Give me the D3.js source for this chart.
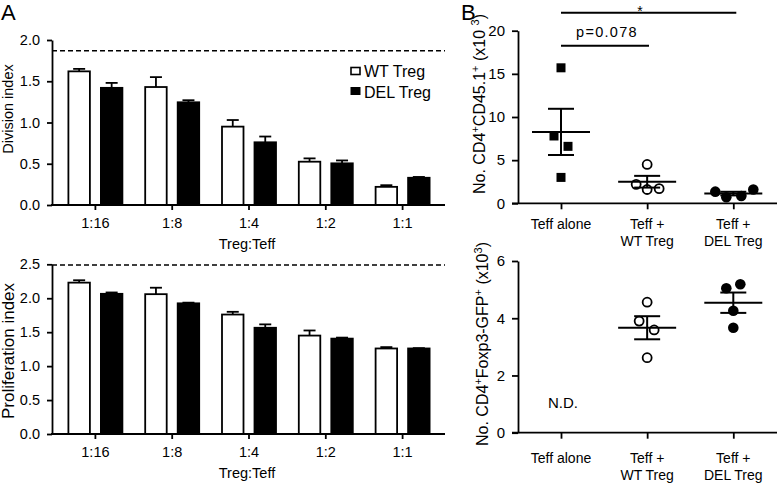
<!DOCTYPE html>
<html><head><meta charset="utf-8">
<script src="https://cdn.jsdelivr.net/npm/d3@7"></script>
<style>
body{margin:0;background:#fff;}
svg{display:block;font-family:"Liberation Sans",Arial,sans-serif;}
</style></head>
<body><svg id="c" width="777" height="483"></svg>
<script>
// ---------- DATA ----------
const ratios = ["1:16","1:8","1:4","1:2","1:1"];
const divWT = [1.62,1.43,0.95,0.525,0.22];
const divWTerr = [0.03,0.12,0.08,0.04,0.02];
const divDEL = [1.42,1.245,0.76,0.505,0.33];
const divDELerr = [0.06,0.025,0.07,0.035,0.01];
const divReference = 1.87;
const divTicks = [0,0.5,1.0,1.5,2.0];

const proWT = [2.23,2.06,1.76,1.45,1.26];
const proWTerr = [0.035,0.095,0.04,0.075,0.02];
const proDEL = [2.065,1.925,1.565,1.405,1.26];
const proDELerr = [0.02,0.01,0.05,0.015,0.005];
const proReference = 2.49;
const proTicks = [0,0.5,1.0,1.5,2.0,2.5];

const groups = ["Teff alone","Teff + WT Treg","Teff + DEL Treg"];
const cd45Alone = [15.7,7.8,6.6,3.0];
const cd45WT = [4.5,2.2,1.6,1.7];
const cd45DEL = [1.35,0.7,0.85,1.6];
const cd45Ticks = [0,5,10,15,20];

const foxWT = [4.56,3.9,3.59,2.62];
const foxDEL = [5.05,5.19,4.26,3.67];
const foxTicks = [0,2,4,6];

// ---------- LAYOUT CONSTANTS ----------
const jitAlone = [0,-7,7,0], jitWT = [0,-11,0,12], jitDEL = [-18,-7,8,20];
const jitFoxWT = [0,-8,7,0], jitFoxDEL = [-7,7,0,0];
const FONT = 14.5;

const svg = d3.select("#c");

function mean(a){return d3.mean(a);}
function sem(a){return d3.deviation(a)/Math.sqrt(a.length);}

// ---------- PANEL A ----------
function barPanel(opt){
  const g = svg.append("g");
  const x = d3.scaleBand().domain(ratios).range([57,441]);
  const y = d3.scaleLinear().domain([0,opt.max]).range([opt.base,opt.top]);
  const bw = 21.5;
  const offW = -27, offD = 5.5;
  g.append("line").attr("x1",52).attr("x2",445)
    .attr("y1",y(opt.ref)).attr("y2",y(opt.ref))
    .attr("stroke","#000").attr("stroke-width",1.6).attr("stroke-dasharray","5,3");
  const series = [
    {vals:opt.wt, err:opt.wtErr, off:offW, fill:"#fff"},
    {vals:opt.del, err:opt.delErr, off:offD, fill:"#000"}
  ];
  series.forEach(s=>{
    ratios.forEach((r,i)=>{
      const cx = x(r)+x.bandwidth()/2;
      const x0 = cx+s.off;
      g.append("line").attr("x1",x0+bw/2).attr("x2",x0+bw/2)
        .attr("y1",y(s.vals[i])).attr("y2",y(s.vals[i]+s.err[i]))
        .attr("stroke","#000").attr("stroke-width",1.8);
      g.append("line").attr("x1",x0+bw/2-6).attr("x2",x0+bw/2+6)
        .attr("y1",y(s.vals[i]+s.err[i])).attr("y2",y(s.vals[i]+s.err[i]))
        .attr("stroke","#000").attr("stroke-width",1.8);
      g.append("rect").attr("x",x0).attr("width",bw)
        .attr("y",y(s.vals[i])).attr("height",y(0)-y(s.vals[i]))
        .attr("fill",s.fill).attr("stroke","#000").attr("stroke-width",1.8);
    });
  });
  const ya = g.append("g").attr("transform","translate(52,0)")
    .call(d3.axisLeft(y).tickValues(opt.ticks).tickFormat(d3.format(".1f")).tickSize(5).tickSizeOuter(0).tickPadding(7));
  ya.selectAll("path,line").attr("stroke-width",1.8);
  ya.selectAll("text").attr("font-size",FONT).attr("font-family","Liberation Sans, Arial");
  g.append("line").attr("x1",51).attr("x2",445).attr("y1",y(0)).attr("y2",y(0))
    .attr("stroke","#000").attr("stroke-width",1.8);
  const xa = g.append("g").attr("transform",`translate(0,${y(0)})`)
    .call(d3.axisBottom(x).tickSize(5).tickPadding(8));
  xa.select(".domain").remove();
  xa.selectAll("line").attr("stroke-width",1.8);
  xa.selectAll("text").attr("font-size",FONT).attr("font-family","Liberation Sans, Arial");
  g.append("text").attr("x",247).attr("y",opt.xlabY).attr("text-anchor","middle")
    .attr("font-size",FONT).text("Treg:Teff");
  g.append("text").attr("transform",`translate(${opt.ylabX},${opt.ylabY}) rotate(-90)`)
    .attr("text-anchor","middle").attr("font-size",opt.ylabSize).text(opt.ylab);
}

barPanel({max:2.0, base:205, top:40, ref:divReference, wt:divWT, wtErr:divWTerr,
  del:divDEL, delErr:divDELerr, ticks:divTicks, xlabY:249, ylab:"Division index",
  ylabX:13, ylabY:109, ylabSize:14.5});
barPanel({max:2.5, base:434, top:264.3, ref:proReference, wt:proWT, wtErr:proWTerr,
  del:proDEL, delErr:proDELerr, ticks:proTicks, xlabY:478, ylab:"Proliferation index",
  ylabX:14, ylabY:351, ylabSize:17});

const leg = svg.append("g");
leg.append("rect").attr("x",351).attr("y",67.5).attr("width",9).attr("height",7)
  .attr("fill","#fff").attr("stroke","#000").attr("stroke-width",1.6);
leg.append("rect").attr("x",350.5).attr("y",87).attr("width",10).attr("height",8).attr("fill","#000");
leg.append("text").attr("x",364).attr("y",77).attr("font-size",16).text("WT Treg");
leg.append("text").attr("x",364).attr("y",97.5).attr("font-size",16).text("DEL Treg");

svg.append("text").attr("x",1).attr("y",20).attr("font-size",22).text("A");
svg.append("text").attr("x",461).attr("y",20).attr("font-size",22).text("B");

// ---------- PANEL B ----------
function dotPanel(opt){
  const g = svg.append("g");
  const x = d3.scalePoint().domain(groups).range([561,733.3]);
  const y = d3.scaleLinear().domain([0,opt.max]).range([opt.base,opt.top]);
  opt.sets.forEach(s=>{
    const cx = x(s.group);
    const m = mean(s.vals), e = sem(s.vals);
    s.vals.forEach((v,i)=>{
      const px = cx + s.jit[i], py = y(v);
      if(s.shape==="square"){
        g.append("rect").attr("x",px-4.5).attr("y",py-4.5).attr("width",9).attr("height",9).attr("fill","#000");
      } else if(s.shape==="open"){
        g.append("circle").attr("cx",px).attr("cy",py).attr("r",4.5)
          .attr("fill","#fff").attr("stroke","#000").attr("stroke-width",1.8);
      } else {
        g.append("circle").attr("cx",px).attr("cy",py).attr("r",5.3).attr("fill","#000");
      }
    });
    g.append("line").attr("x1",cx-29).attr("x2",cx+29).attr("y1",y(m)).attr("y2",y(m))
      .attr("stroke","#000").attr("stroke-width",2);
    g.append("line").attr("x1",cx).attr("x2",cx).attr("y1",y(m-e)).attr("y2",y(m+e))
      .attr("stroke","#000").attr("stroke-width",2);
    [m-e,m+e].forEach(v=>g.append("line").attr("x1",cx-13).attr("x2",cx+13)
      .attr("y1",y(v)).attr("y2",y(v)).attr("stroke","#000").attr("stroke-width",2));
  });
  const ya = g.append("g").attr("transform","translate(518,0)")
    .call(d3.axisLeft(y).tickValues(opt.ticks).tickFormat(d3.format("d")).tickSize(6).tickSizeOuter(0).tickPadding(7));
  ya.selectAll("path,line").attr("stroke-width",1.8);
  ya.selectAll("text").attr("font-size",15).attr("font-family","Liberation Sans, Arial");
  g.append("line").attr("x1",512).attr("x2",777).attr("y1",y(0)).attr("y2",y(0))
    .attr("stroke","#000").attr("stroke-width",1.8);
  const xa = g.append("g").attr("transform",`translate(0,${y(0)})`)
    .call(d3.axisBottom(x).tickSize(6).tickFormat(""));
  xa.select(".domain").remove();
  xa.selectAll("line").attr("stroke-width",1.8);
  groups.forEach(gr=>{
    const parts = gr==="Teff alone" ? [gr] : ["Teff +", gr.replace("Teff + ","")];
    parts.forEach((p,j)=>{
      g.append("text").attr("x",x(gr)).attr("y",y(0)+opt.labDy+j*17)
        .attr("text-anchor","middle").attr("font-size",14).text(p);
    });
  });
  const t = g.append("text").attr("transform",`translate(${opt.ylabX},${opt.ylabY}) rotate(-90)`)
    .attr("text-anchor","middle").attr("font-size",16);
  opt.ylab.forEach(p=>{
    const ts = t.append("tspan").text(p.t);
    if(p.sup){ ts.attr("baseline-shift","super").attr("font-size",11); }
  });
  return {x,y,g};
}

const topPanel = dotPanel({max:20, base:203.3, top:30.7, ticks:cd45Ticks, labDy:26, ylabX:485, ylabY:104,
  sets:[{group:groups[0], vals:cd45Alone, jit:jitAlone, shape:"square"},
        {group:groups[1], vals:cd45WT, jit:jitWT, shape:"open"},
        {group:groups[2], vals:cd45DEL, jit:jitDEL, shape:"filled"}],
  ylab:[{t:"No. CD4"},{t:"+",sup:1},{t:"CD45.1"},{t:"+",sup:1},{t:" (x10 "},{t:"3",sup:1},{t:")"}]});

topPanel.g.append("line").attr("x1",topPanel.x(groups[0])).attr("x2",topPanel.x(groups[2])+3)
  .attr("y1",12.7).attr("y2",12.7).attr("stroke","#000").attr("stroke-width",2);
topPanel.g.append("text").attr("x",640).attr("y",16).attr("text-anchor","middle").attr("font-size",14).text("*");
topPanel.g.append("line").attr("x1",topPanel.x(groups[0])).attr("x2",649)
  .attr("y1",45.7).attr("y2",45.7).attr("stroke","#000").attr("stroke-width",2);
topPanel.g.append("text").attr("x",607).attr("y",37).attr("text-anchor","middle")
  .attr("font-size",14.5).attr("letter-spacing",1.3).text("p=0.078");

const botPanel = dotPanel({max:6, base:432.7, top:261, ticks:foxTicks, labDy:30, ylabX:488, ylabY:344,
  sets:[{group:groups[1], vals:foxWT, jit:jitFoxWT, shape:"open"},
        {group:groups[2], vals:foxDEL, jit:jitFoxDEL, shape:"filled"}],
  ylab:[{t:"No. CD4"},{t:"+",sup:1},{t:"Foxp3-GFP"},{t:"+",sup:1},{t:" (x10"},{t:"3",sup:1},{t:")"}]});
botPanel.g.append("text").attr("x",563).attr("y",408).attr("text-anchor","middle").attr("font-size",15).text("N.D.");
</script></body></html>
